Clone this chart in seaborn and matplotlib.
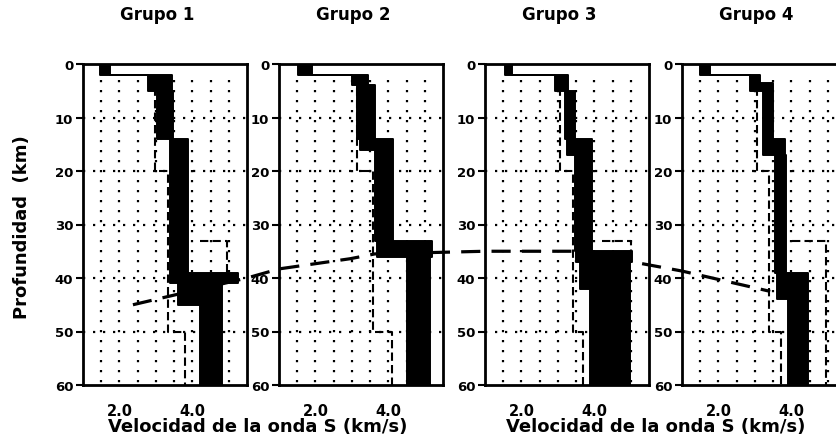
import numpy as np
import pandas as pd
import matplotlib
matplotlib.use("Agg")
import matplotlib.pyplot as plt
import seaborn as sns
from matplotlib.lines import Line2D

# ---------------- data ----------------
groups = ["Grupo 1", "Grupo 2", "Grupo 3", "Grupo 4"]
depth_ticks = [0, 10, 20, 30, 40, 50, 60]
vel_ticks = [2.0, 4.0]
vel_tick_labels = ["2.0", "4.0"]

# black band: layer boundaries (km) and min / max S velocity (km/s)
band_depth_g1 = [0, 2, 5, 14, 39, 41, 45, 60]
band_vmin_g1 = [1.47, 2.79, 3.03, 3.39, 3.39, 3.60, 4.21]
band_vmax_g1 = [1.74, 3.45, 3.47, 3.88, 5.26, 4.82, 4.82]

band_depth_g2 = [0, 2, 4, 14, 16, 33, 36, 60]
band_vmin_g2 = [1.52, 3.00, 3.14, 3.22, 3.64, 3.70, 4.52]
band_vmax_g2 = [1.90, 3.45, 3.64, 4.13, 4.13, 5.20, 5.15]

band_depth_g3 = [0, 2, 5, 14, 17, 35, 37, 42, 60]
band_vmin_g3 = [1.55, 2.92, 3.20, 3.25, 3.47, 3.50, 3.60, 3.88]
band_vmax_g3 = [1.74, 3.28, 3.47, 3.94, 3.94, 5.04, 4.98, 4.98]

band_depth_g4 = [0, 2, 3.5, 5, 14, 17, 39, 44, 60]
band_vmin_g4 = [1.49, 2.87, 2.87, 3.22, 3.22, 3.55, 3.60, 3.90]
band_vmax_g4 = [1.77, 3.14, 3.50, 3.50, 3.83, 3.85, 4.45, 4.45]

# dashed lower bound (step profile)
low_depth_g1 = [2, 20, 50, 60]
low_v_g1 = [2.98, 3.33, 3.80]
low_depth_g2 = [2, 20, 50, 60]
low_v_g2 = [3.14, 3.58, 4.10]
low_depth_g3 = [2, 20, 50, 60]
low_v_g3 = [3.06, 3.42, 3.70]
low_depth_g4 = [2, 20, 50, 60]
low_v_g4 = [3.06, 3.40, 3.72]

# dashed upper bound (visible part, polyline)
up_v_g1 = [4.21, 4.95, 4.95]
up_d_g1 = [33, 33, 40]
up_v_g2 = []
up_d_g2 = []
up_v_g3 = [4.20, 5.00, 5.00]
up_d_g3 = [33, 33, 37]
up_v_g4 = [4.02, 4.95, 4.95]
up_d_g4 = [33, 33, 60]

# Moho trace crossing the panels (velocity, depth) in each panel
moho_v_g1 = [2.37, 5.50]
moho_d_g1 = [45.0, 40.0]
moho_v_g2 = [1.00, 2.95, 3.63]
moho_d_g2 = [38.3, 36.4, 35.5]
moho_v_g3 = [1.00, 3.47]
moho_d_g3 = [35.0, 35.0]
moho_v_g4 = [1.00, 3.42]
moho_d_g4 = [38.7, 42.5]

bands = [(band_depth_g1, band_vmin_g1, band_vmax_g1),
         (band_depth_g2, band_vmin_g2, band_vmax_g2),
         (band_depth_g3, band_vmin_g3, band_vmax_g3),
         (band_depth_g4, band_vmin_g4, band_vmax_g4)]
lows = [(low_depth_g1, low_v_g1), (low_depth_g2, low_v_g2),
        (low_depth_g3, low_v_g3), (low_depth_g4, low_v_g4)]
ups = [(up_v_g1, up_d_g1), (up_v_g2, up_d_g2),
       (up_v_g3, up_d_g3), (up_v_g4, up_d_g4)]
mohos = [(moho_v_g1, moho_d_g1), (moho_v_g2, moho_d_g2),
         (moho_v_g3, moho_d_g3), (moho_v_g4, moho_d_g4)]


def step(depths, vals):
    y, x = [], []
    for i, v in enumerate(vals):
        y += [depths[i], depths[i + 1]]
        x += [v, v]
    return np.array(x), np.array(y)


# ---------------- style ----------------
sns.set_theme(style="white")
plt.rcParams["font.family"] = ["DejaVu Sans"]
plt.rcParams["font.weight"] = "bold"

W, H = 836, 439
fig = plt.figure(figsize=(W / 100, H / 100), dpi=100)
fig.patch.set_facecolor("white")

lefts = [83, 279, 485, 682]
pw, top, bot = 164, 65, 386
axes = []
for i, lp in enumerate(lefts):
    ax = fig.add_axes([lp / W, (H - bot) / H, pw / W, (bot - top) / H])
    axes.append(ax)
    ax.set_facecolor("white")

    # dotted grid
    grid_v = np.arange(1.5, 5.01, 0.5)
    ax.vlines(grid_v, 3, 60, colors="black", linestyles=(0, (1, 3.5)), lw=1.6, zorder=1)
    ax.hlines([10, 20, 30, 40, 50], 1.0, 5.5, colors="black",
              linestyles=(0, (1, 3.5)), lw=1.6, zorder=1)

    # band
    d, vmn, vmx = bands[i]
    xmn, y = step(d, vmn)
    xmx, _ = step(d, vmx)
    ax.fill_betweenx(y, xmn, xmx, color="black", lw=0, zorder=2)
    sns.lineplot(x=xmn, y=y, sort=False, estimator=None, color="black", lw=1.4, ax=ax, zorder=2)
    sns.lineplot(x=xmx, y=y, sort=False, estimator=None, color="black", lw=1.4, ax=ax, zorder=2)

    # dashed bounds
    ld, lv = lows[i]
    lx, ly = step(ld, lv)
    sns.lineplot(x=lx, y=ly, sort=False, estimator=None, color="black", lw=1.5,
                 linestyle=(0, (4, 2)), ax=ax, zorder=3)
    uv, ud = ups[i]
    if len(uv):
        sns.lineplot(x=np.array(uv), y=np.array(ud), sort=False, estimator=None,
                     color="black", lw=1.5, linestyle=(0, (4, 2)), ax=ax, zorder=3)

    ax.set_xlim(1.0, 5.5)
    ax.set_ylim(60, 0)
    ax.set_xlabel("")
    ax.set_ylabel("")
    ax.set_yticks(depth_ticks)
    ax.set_yticklabels([str(t) for t in depth_ticks], fontsize=9.5, fontweight="bold")
    ax.set_xticks(vel_ticks)
    ax.set_xticklabels(vel_tick_labels, fontsize=10.5, fontweight="bold")
    ax.tick_params(axis="y", direction="out", length=5, width=1.5, pad=2,
                   colors="black", left=True)
    ax.tick_params(axis="x", length=0, pad=13, colors="black")
    for s in ax.spines.values():
        s.set_visible(True)
        s.set_color("black")
        s.set_linewidth(2.0)
    ax.text(0.45, 1 + 50 / (bot - top), groups[i], transform=ax.transAxes,
            ha="center", va="center", fontsize=12, fontweight="bold", color="black")

# Moho trace as one figure-level line
inv = fig.transFigure.inverted()
pts = []
for ax, (mv, md) in zip(axes, mohos):
    for v, dd in zip(mv, md):
        pts.append(inv.transform(ax.transData.transform((v, dd))))
pts = np.array(pts)
fig.add_artist(Line2D(pts[:, 0], pts[:, 1], transform=fig.transFigure, color="black",
                      lw=2.3, linestyle=(0, (6, 3.5)), zorder=10))

fig.text(258 / W, 1 - 427 / H, "Velocidad de la onda S (km/s)", ha="center", va="center",
         fontsize=13, fontweight="bold", color="black")
fig.text(656 / W, 1 - 427 / H, "Velocidad de la onda S (km/s)", ha="center", va="center",
         fontsize=13, fontweight="bold", color="black")
fig.text(22 / W, 1 - 227 / H, "Profundidad  (km)", ha="center", va="center", rotation=90,
         fontsize=13, fontweight="bold", color="black")

fig.savefig("out.png", dpi=100, facecolor="white")
